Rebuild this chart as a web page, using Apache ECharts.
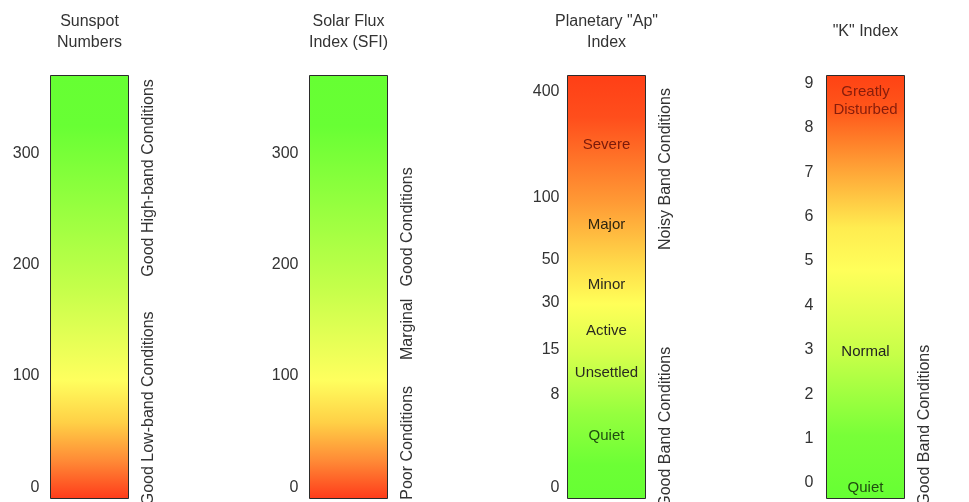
<!DOCTYPE html>
<html>
<head>
<meta charset="utf-8">
<script src="https://cdn.jsdelivr.net/npm/echarts@6/dist/echarts.min.js"></script>
<style>
html,body{margin:0;padding:0;background:#fff;}
#c{width:969px;height:502px;}
</style>
</head>
<body>
<div id="c"></div>
<script>
// ---------- data ----------
const titles = ['Sunspot\nNumbers', 'Solar Flux\nIndex (SFI)', 'Planetary "Ap"\nIndex', '"K" Index'];

const sunspotTicks = [0, 100, 200, 300];
const sunspotExtent = [-10, 370];
const sunspotNotes = ['Good High-band Conditions', 'Good Low-band Conditions'];
const sunspotNoteAt = [278, 71];

const sfiTicks = [0, 100, 200, 300];
const sfiExtent = [-10, 370];
const sfiNotes = ['Good Conditions', 'Marginal', 'Poor Conditions'];
const sfiNoteAt = [234, 142, 40];

// Ap index uses a non-linear (roughly K-equivalent) scale: tick values and their place on that scale
const apTicks = [0, 8, 15, 30, 50, 100, 400];
const apTickScale = [0, 2.1, 3.11, 4.18, 5.15, 6.54, 8.92];
const apExtentScale = [-0.24, 9.29];
const apLevels = ['Severe', 'Major', 'Minor', 'Active', 'Unsettled', 'Quiet'];
const apLevelAt = [250, 78, 38, 21, 11.4, 4.5];
const apNotes = ['Noisy Band Conditions', 'Good Band Conditions'];
const apNoteAt = [181, 5.2];

const kTicks = [0, 1, 2, 3, 4, 5, 6, 7, 8, 9];
const kExtent = [-0.35, 9.18];
const kLevels = ['Greatly\nDisturbed', 'Normal', 'Quiet'];
const kLevelAt = [8.6, 2.95, -0.1];
const kNotes = ['Good Band Conditions'];
const kNoteAt = [1.3];

// ---------- helpers ----------
function apToScale(v) {
  for (let i = 0; i < apTicks.length - 1; i++) {
    if (v <= apTicks[i + 1]) {
      const t = (v - apTicks[i]) / (apTicks[i + 1] - apTicks[i]);
      return apTickScale[i] + t * (apTickScale[i + 1] - apTickScale[i]);
    }
  }
  return apTickScale[apTickScale.length - 1];
}

const FONT = '"Liberation Sans", Arial, sans-serif';
const TXT = '#333';

const LG = (stops) => new echarts.graphic.LinearGradient(0, 0, 0, 1,
  stops.map(s => ({offset: s[0], color: s[1]})));

const greenTop = LG([[0, '#66ff33'], [0.12, '#68ff34'], [0.5, '#c4ff4a'], [0.72, '#ffff5e'],
  [0.82, '#ffd046'], [0.91, '#ff8a36'], [1, '#ff3b1a']]);
const apGrad = LG([[0, '#ff3f16'], [0.1, '#ff4e1c'], [0.3, '#ff9a35'], [0.45, '#ffdc4a'],
  [0.54, '#ffff58'], [0.66, '#d6ff4c'], [0.8, '#95ff3e'], [0.92, '#6cff35'], [1, '#66ff33']]);
const kGrad = LG([[0, '#ff4214'], [0.08, '#ff561a'], [0.22, '#ffa236'], [0.36, '#ffec50'],
  [0.46, '#ffff5a'], [0.66, '#c6ff48'], [0.85, '#78ff38'], [1, '#66ff33']]);

const panels = [
  {title: titles[0], ticks: sunspotTicks, tickPos: sunspotTicks, extent: sunspotExtent, grad: greenTop,
   notes: sunspotNotes, notePos: sunspotNoteAt, levels: [], levelPos: [], left: 50.5, margin: 11, nameGap: 22},
  {title: titles[1], ticks: sfiTicks, tickPos: sfiTicks, extent: sfiExtent, grad: greenTop,
   notes: sfiNotes, notePos: sfiNoteAt, levels: [], levelPos: [], left: 309.5, margin: 11, nameGap: 22},
  {title: titles[2], ticks: apTicks, tickPos: apTicks.map(apToScale), extent: apExtentScale, grad: apGrad,
   notes: apNotes, notePos: apNoteAt.map(apToScale), levels: apLevels, levelPos: apLevelAt.map(apToScale),
   levelColors: ['#7a1a0a', '#2e2410', '#2a2a20', '#2a2a20', '#2a2a20', '#1f4d10'], left: 567.5, margin: 8, nameGap: 22},
  {title: titles[3], ticks: kTicks, tickPos: kTicks, extent: kExtent, grad: kGrad,
   notes: kNotes, notePos: kNoteAt, levels: kLevels, levelPos: kLevelAt,
   levelColors: ['#861d0b', '#222', '#1f4d10'], left: 826.5, margin: 13, nameGap: 33}
];

const grid = [], xAxis = [], yAxis = [], series = [];
panels.forEach((p, i) => {
  grid.push({left: p.left, width: 78, top: 75.5, height: 423, containLabel: false, outerBoundsMode: 'none'});
  xAxis.push({
    type: 'value', gridIndex: i, min: 0, max: 1, position: 'top',
    name: p.title, nameLocation: 'middle', nameGap: p.nameGap,
    nameTextStyle: {fontFamily: FONT, fontSize: 16, color: TXT, lineHeight: 21},
    axisLine: {show: false}, axisTick: {show: false}, axisLabel: {show: false}, splitLine: {show: false}
  });
  const labelMap = {};
  p.tickPos.forEach((v, j) => { labelMap[v.toFixed(4)] = String(p.ticks[j]); });
  yAxis.push({
    type: 'value', gridIndex: i, min: p.extent[0], max: p.extent[1], position: 'left',
    axisLine: {show: false}, axisTick: {show: false}, splitLine: {show: false},
    axisLabel: {
      customValues: p.tickPos, margin: p.margin, fontFamily: FONT, fontSize: 16, color: TXT,
      formatter: v => labelMap[Number(v).toFixed(4)] ?? ''
    }
  });
  const noteMap = {};
  p.notePos.forEach((v, j) => { noteMap[v.toFixed(4)] = p.notes[j]; });
  yAxis.push({
    type: 'value', gridIndex: i, min: p.extent[0], max: p.extent[1], position: 'right',
    axisLine: {show: false}, axisTick: {show: false}, splitLine: {show: false},
    axisLabel: {
      customValues: p.notePos, rotate: 90, margin: 12, fontFamily: FONT, fontSize: 16, color: TXT,
      formatter: v => noteMap[Number(v).toFixed(4)] ?? ''
    }
  });
  const grad = p.grad;
  series.push({
    type: 'custom', xAxisIndex: i, yAxisIndex: 2 * i,
    data: [[p.extent[0], p.extent[1]]],
    encode: {y: [0, 1]},
    silent: true,
    renderItem: (params, api) => {
      const a = api.coord([0, api.value(0)]);
      const b = api.coord([1, api.value(1)]);
      return {
        type: 'rect',
        shape: {x: a[0], y: b[1], width: b[0] - a[0], height: a[1] - b[1]},
        style: {fill: grad, stroke: '#2b2b2b', lineWidth: 1}
      };
    }
  });
  if (p.levels.length) {
    series.push({
      type: 'scatter', xAxisIndex: i, yAxisIndex: 2 * i, symbolSize: 1, silent: true,
      itemStyle: {color: 'rgba(0,0,0,0)', opacity: 1}, z: 5,
      data: p.levels.map((name, j) => ({
        value: [0.5, p.levelPos[j], name],
        label: {color: p.levelColors[j]}
      })),
      label: {
        show: true, position: 'inside', fontFamily: FONT, fontSize: 15, lineHeight: 18,
        formatter: q => q.data.value[2]
      }
    });
  }
});

const chart = echarts.init(document.getElementById('c'), null, {renderer: 'canvas'});
chart.setOption({
  animation: false,
  backgroundColor: '#fff',
  grid, xAxis, yAxis, series
});
</script>
</body>
</html>
